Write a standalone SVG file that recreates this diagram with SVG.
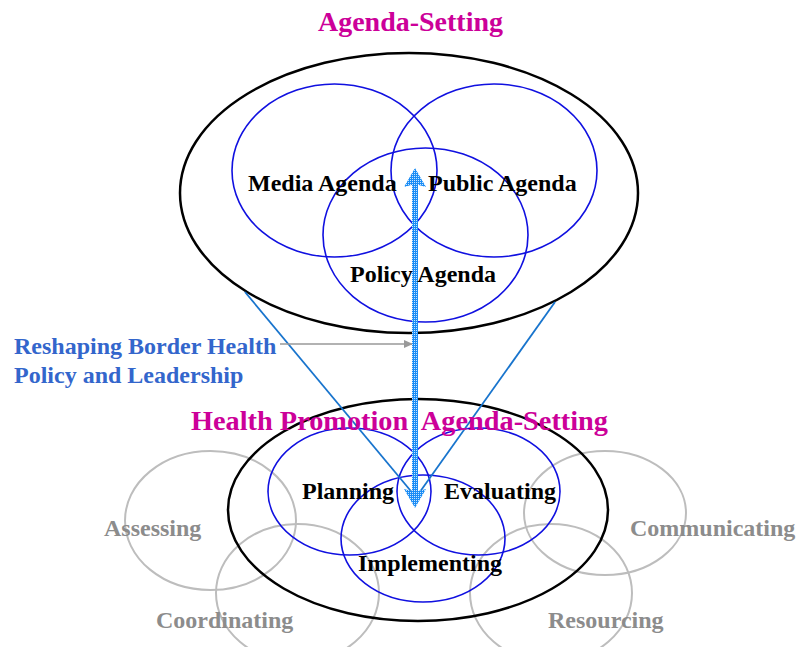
<svg xmlns="http://www.w3.org/2000/svg" width="797" height="647" viewBox="0 0 797 647">
<style>
  text { font-family: "Liberation Serif", "Times New Roman", serif; font-weight: bold; }
  .title { fill: #CC0099; font-size: 28px; }
  .lbl { fill: #000; font-size: 24px; }
  .grey { fill: #8C8C8C; font-size: 24px; }
  .blue { fill: #3366CC; font-size: 24px; }
  .outer { fill: none; stroke: #000; stroke-width: 2.5; }
  .inner { fill: none; stroke: #1010E0; stroke-width: 1.6; }
  .gcirc { fill: none; stroke: #BDBDBD; stroke-width: 2; }
  .conn { stroke: #1874CD; stroke-width: 1.8; fill: none; }
</style>
<defs>
  <pattern id="dots" width="2" height="2" patternUnits="userSpaceOnUse">
    <rect width="2" height="2" fill="#1A8CF5"/>
    <rect width="1" height="1" fill="#C8E6FF"/>
  </pattern>
  <marker id="garrow" markerWidth="10" markerHeight="10" refX="9" refY="5" orient="auto" markerUnits="userSpaceOnUse">
    <path d="M0,1 L9,5 L0,9 Z" fill="#999"/>
  </marker>
</defs>
<rect width="797" height="647" fill="#fff"/>

<g id="assessing">
  <ellipse class="gcirc" cx="210.5" cy="520.5" rx="85.5" ry="69.5"/>
</g>
<g id="coordinating">
  <ellipse class="gcirc" cx="297.5" cy="593" rx="81.5" ry="69"/>
</g>
<g id="communicating">
  <ellipse class="gcirc" cx="605" cy="513" rx="81" ry="62"/>
</g>
<g id="resourcing">
  <ellipse class="gcirc" cx="551" cy="593" rx="81" ry="69"/>
</g>

<g id="agenda-setting">
  <ellipse class="outer" cx="409" cy="193" rx="229" ry="140"/>
</g>
<g id="media-agenda">
  <ellipse class="inner" cx="334.5" cy="170.5" rx="102.5" ry="86.5"/>
</g>
<g id="public-agenda">
  <ellipse class="inner" cx="494" cy="170.5" rx="103" ry="86.5"/>
</g>
<g id="policy-agenda">
  <ellipse class="inner" cx="425.5" cy="235" rx="102.5" ry="87"/>
</g>

<g id="health-promotion">
  <ellipse class="outer" cx="418" cy="510" rx="190" ry="111"/>
</g>
<g id="planning">
  <ellipse class="inner" cx="349.5" cy="491.5" rx="81.5" ry="63.5"/>
</g>
<g id="evaluating">
  <ellipse class="inner" cx="478.5" cy="491.5" rx="81.5" ry="63.5"/>
</g>
<g id="implementing">
  <ellipse class="inner" cx="423" cy="538.5" rx="82" ry="63.5"/>
</g>

<g id="connectors">
  <line class="conn" x1="245" y1="292" x2="415" y2="496"/>
  <line class="conn" x1="555" y1="302" x2="417" y2="496"/>
  <line x1="280" y1="344" x2="413" y2="344" stroke="#999" stroke-width="1.3" marker-end="url(#garrow)"/>
  <g id="double-arrow" fill="url(#dots)">
    <rect x="412" y="184" width="6" height="308"/>
    <path d="M415,168 L426,187 L415,184 L404,187 Z"/>
    <path d="M415,508 L426,489 L415,492 L404,489 Z"/>
  </g>
</g>

<g id="titles">
  <text class="title" x="318" y="31" textLength="185" lengthAdjust="spacingAndGlyphs">Agenda-Setting</text>
  <text class="title" x="191" y="430" xml:space="preserve" textLength="417" lengthAdjust="spacingAndGlyphs">Health Promotion  Agenda-Setting</text>
</g>

<g id="labels">
  <text class="lbl" x="248" y="191">Media Agenda</text>
  <text class="lbl" x="428" y="191">Public Agenda</text>
  <text class="lbl" x="350" y="282">Policy Agenda</text>
  <text class="lbl" x="302" y="499">Planning</text>
  <text class="lbl" x="444" y="499">Evaluating</text>
  <text class="lbl" x="358" y="571">Implementing</text>
  <text class="grey" x="104" y="536">Assessing</text>
  <text class="grey" x="630" y="536">Communicating</text>
  <text class="grey" x="156" y="628">Coordinating</text>
  <text class="grey" x="548" y="628">Resourcing</text>
</g>

<g id="reshaping-label">
  <text class="blue" x="14" y="354">Reshaping Border Health</text>
  <text class="blue" x="14" y="383">Policy and Leadership</text>
</g>
</svg>
